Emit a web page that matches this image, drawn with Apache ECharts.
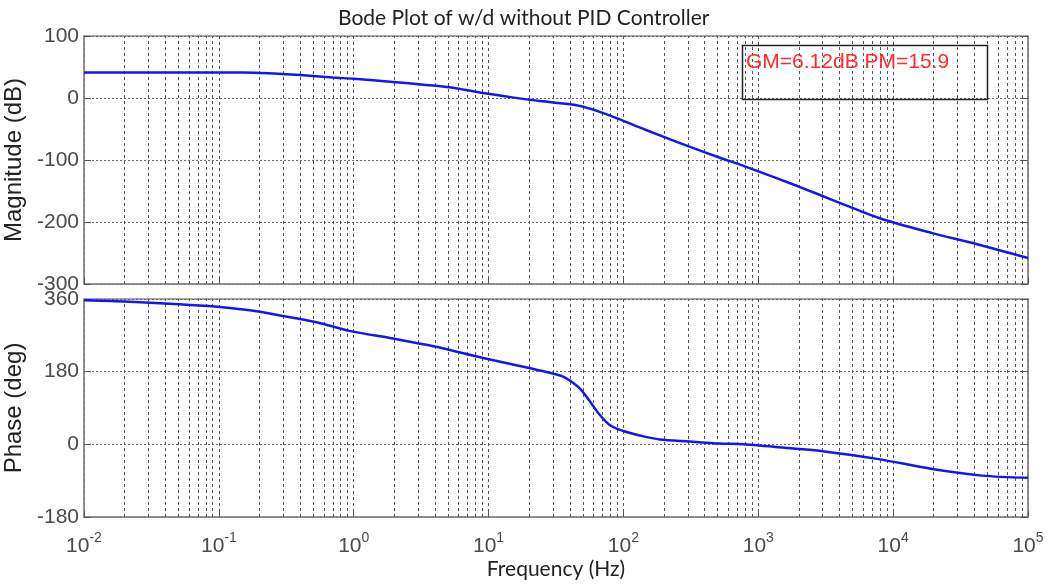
<!DOCTYPE html>
<html>
<head>
<meta charset="utf-8">
<script src="https://cdn.jsdelivr.net/npm/echarts@6/dist/echarts.min.js"></script>
<style>
html,body{margin:0;padding:0;background:#fff;}
#chart{width:1051px;height:586px;}
</style>
</head>
<body>
<div id="chart"></div>
<script>
// ---- data ----
const magFreq = [0.01, 0.05, 0.15, 0.23, 0.4, 0.7, 1.0, 1.95, 3.9, 6.0, 9.1, 15, 24, 43, 56, 66, 93, 132, 195, 309, 513, 724, 912, 1950, 3800, 7940, 19500, 38900, 100000];
const magDb   = [41, 41, 41, 40, 37, 33, 31, 26, 20, 15, 8, 1, -5, -11, -17, -22, -34, -47.5, -62, -78.5, -96, -107, -115, -142, -167, -194, -218, -234, -258];

const phaseFreq = [0.01, 0.022, 0.051, 0.098, 0.17, 0.30, 0.54, 0.93, 1.95, 3.9, 9.1, 20, 28, 35, 40, 48, 56, 66, 79, 100, 132, 186, 309, 513, 776, 1900, 3000, 7600, 19500, 45700, 100000];
const phaseDeg  = [357, 353, 347, 341, 332, 318, 302, 281, 262, 243, 214, 189, 178, 169, 158, 137, 108, 75, 48, 33, 22, 12, 7, 2, 0, -11, -17, -36, -61, -77.5, -83];

const magTicks = [-300, -200, -100, 0, 100];
const phaseTicks = [-180, 0, 180, 360];
const freqDecades = [-2, -1, 0, 1, 2, 3, 4, 5];

const titleText = 'Bode Plot of w/d without PID Controller';
const marginText = 'GM=6.12dB PM=15.9';

// minor log grid positions (2..9 x 10^k)
const minorGrid = [];
for (let k = freqDecades[0]; k < freqDecades[freqDecades.length - 1]; k++) {
  for (let m = 2; m <= 9; m++) minorGrid.push(+(m * Math.pow(10, k)).toPrecision(3));
}

const labelColor = '#4a4a4a';
const frameColor = '#8a8a8a';
const blue = '#1515f0';

function xAxisCfg(gridIndex, showLabels) {
  return {
    type: 'log', logBase: 10, gridIndex: gridIndex,
    min: Math.pow(10, freqDecades[0]), max: Math.pow(10, freqDecades[freqDecades.length - 1]),
    interval: 1,
    axisLine: {show: true, onZero: false, lineStyle: {color: frameColor, width: 1.5}},
    axisTick: {show: true, inside: true, length: 6, lineStyle: {color: '#555'}},
    splitLine: {show: true, lineStyle: {color: '#555', type: [3, 3], width: 1}},
    axisLabel: {
      show: showLabels, margin: 14, color: labelColor,
      formatter: function (v) {
        const e = Math.round(Math.log10(v));
        return '{b|10}{s|' + e + '}';
      },
      rich: {
        b: {fontFamily: 'Liberation Sans', fontSize: 21, color: labelColor, lineHeight: 30, verticalAlign: 'middle'},
        s: {fontFamily: 'Liberation Sans', fontSize: 14, color: labelColor, lineHeight: 10, verticalAlign: 'top'}
      }
    },
    name: showLabels ? 'Frequency (Hz)' : '',
    nameLocation: 'middle', nameGap: 42,
    nameTextStyle: {fontFamily: 'Lato', fontSize: 21, color: '#222'}
  };
}

function yAxisCfg(gridIndex, ticks, name) {
  return {
    type: 'value', gridIndex: gridIndex,
    min: ticks[0], max: ticks[ticks.length - 1], interval: ticks[1] - ticks[0],
    axisLine: {show: true, onZero: false, lineStyle: {color: frameColor, width: 1.5}},
    axisTick: {show: true, inside: true, length: 7, lineStyle: {color: '#555'}},
    splitLine: {show: true, lineStyle: {color: '#666', type: [2, 2], width: 1}},
    axisLabel: {color: labelColor, fontFamily: 'Liberation Sans', fontSize: 21, margin: 5},
    name: name, nameLocation: 'middle', nameGap: 52, nameRotate: 90,
    nameTextStyle: {fontFamily: 'Liberation Sans', fontSize: 24, color: '#222'}
  };
}

function yRightCfg(gridIndex, ticks) {
  return {
    type: 'value', gridIndex: gridIndex, position: 'right',
    min: ticks[0], max: ticks[ticks.length - 1], interval: ticks[1] - ticks[0],
    axisLine: {show: true, onZero: false, lineStyle: {color: frameColor, width: 1.5}},
    axisTick: {show: true, inside: true, length: 7, lineStyle: {color: '#555'}},
    splitLine: {show: false}, axisLabel: {show: false}
  };
}

function gridSeries(xi, yi) {
  return {
    type: 'line', xAxisIndex: xi, yAxisIndex: yi, data: [], silent: true, z: 1,
    markLine: {
      silent: true, symbol: ['none', 'none'], animation: false,
      label: {show: false},
      lineStyle: {color: '#555', type: [3, 3], width: 1},
      emphasis: {disabled: true},
      data: minorGrid.map(f => ({xAxis: f}))
    }
  };
}

const chart = echarts.init(document.getElementById('chart'), null, {renderer: 'canvas'});
chart.setOption({
  animation: false,
  backgroundColor: '#fff',
  title: {
    text: titleText, left: 333, top: 3,
    textStyle: {fontFamily: 'Lato', fontWeight: 'normal', fontSize: 21, color: '#222'}
  },
  grid: [
    {left: 84, top: 36, width: 944, height: 248, show: true, borderColor: frameColor, borderWidth: 1.5, backgroundColor: '#fff', containLabel: false, outerBoundsMode: 'none'},
    {left: 84, top: 299, width: 944, height: 218, show: true, borderColor: frameColor, borderWidth: 1.5, backgroundColor: '#fff', containLabel: false, outerBoundsMode: 'none'}
  ],
  xAxis: [xAxisCfg(0, false), xAxisCfg(1, true)],
  yAxis: [
    yAxisCfg(0, magTicks, 'Magnitude (dB)'),
    yAxisCfg(1, phaseTicks, 'Phase (deg)'),
    yRightCfg(0, magTicks),
    yRightCfg(1, phaseTicks)
  ],
  series: [
    gridSeries(0, 0),
    gridSeries(1, 1),
    {
      name: 'Magnitude', type: 'line', xAxisIndex: 0, yAxisIndex: 0, z: 5,
      data: magFreq.map((f, i) => [f, magDb[i]]),
      showSymbol: false, smooth: 0.3,
      lineStyle: {color: blue, width: 2.5}
    },
    {
      name: 'Phase', type: 'line', xAxisIndex: 1, yAxisIndex: 1, z: 5,
      data: phaseFreq.map((f, i) => [f, phaseDeg[i]]),
      showSymbol: false, smooth: 0.3,
      lineStyle: {color: blue, width: 2.5}
    }
  ],
  graphic: [
    {
      type: 'rect', left: 740, top: 43, z: 10,
      shape: {width: 245, height: 54},
      style: {fill: 'none', stroke: '#222', lineWidth: 1.5}
    },
    {
      type: 'text', left: 746, top: 52, z: 11,
      style: {text: marginText, fill: '#ff2a2a', font: '21px "Liberation Sans"'}
    }
  ]
});
</script>
</body>
</html>
